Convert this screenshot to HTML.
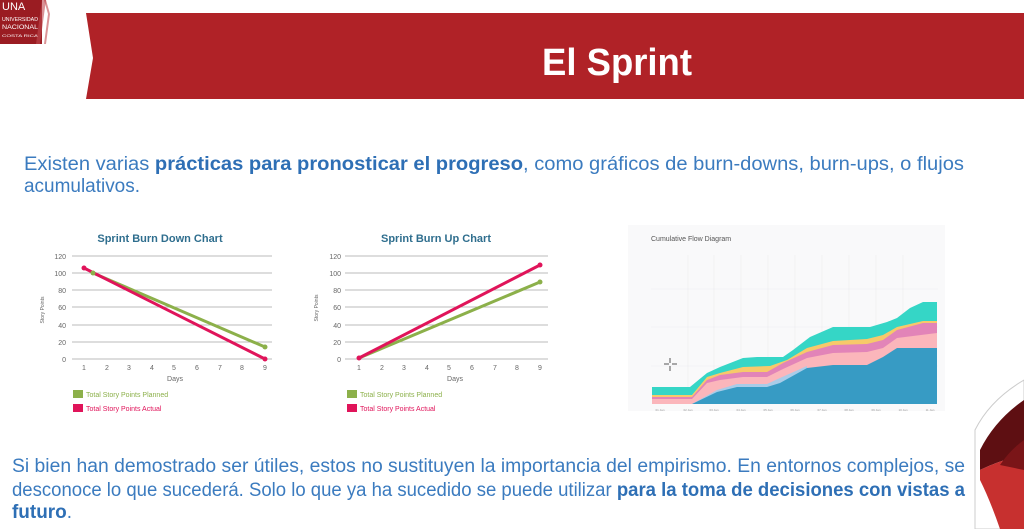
<!DOCTYPE html>
<html><head><meta charset="utf-8"><style>
html,body{margin:0;padding:0;background:#fff;}
svg{display:block;}
text{font-family:"Liberation Sans",sans-serif;}
</style></head><body>
<svg width="1024" height="529" viewBox="0 0 1024 529" xmlns="http://www.w3.org/2000/svg">
<!-- logo -->
<rect x="0" y="0" width="42" height="44" fill="#9a1c22"/>
<text x="2" y="10" font-size="11" fill="#fff">UNA</text>
<text x="2" y="21" font-size="5.5" fill="#fff" textLength="36" lengthAdjust="spacingAndGlyphs">UNIVERSIDAD</text>
<text x="2" y="29" font-size="6" fill="#fff" textLength="36" lengthAdjust="spacingAndGlyphs">NACIONAL</text>
<text x="2" y="37" font-size="4" fill="#fff" textLength="36" lengthAdjust="spacingAndGlyphs">COSTA RICA</text>
<path d="M42 0 L46 0 L40 44 L36 44Z" fill="#c04a50" opacity="0.6"/>
<path d="M46 0 L50 14 L46 44 L44 44 L48 14 L44 0Z" fill="#b52a30" opacity="0.5"/>
<!-- banner -->
<path d="M86 13 L1024 13 L1024 99 L86 99 L93 58 Z" fill="#b02227"/>
<text x="617" y="75" font-size="38" font-weight="bold" fill="#fff" text-anchor="middle" textLength="150" lengthAdjust="spacingAndGlyphs">El Sprint</text>
<!-- top paragraph -->
<text x="24" y="170" font-size="19" fill="#3b7bbf" textLength="940" lengthAdjust="spacingAndGlyphs">Existen varias <tspan font-weight="bold" fill="#2e6fb5">prácticas para pronosticar el progreso</tspan>, como gráficos de burn-downs, burn-ups, o flujos</text>
<text x="24" y="192" font-size="19" fill="#3b7bbf" textLength="116" lengthAdjust="spacingAndGlyphs">acumulativos.</text>

<!-- burn down chart -->
<g font-size="7" fill="#666">
<text x="160" y="242" font-size="11" font-weight="bold" fill="#2f6e8e" text-anchor="middle">Sprint Burn Down Chart</text>
<g stroke="#bbb" stroke-width="1">
<line x1="72" y1="256" x2="272" y2="256"/><line x1="72" y1="273" x2="272" y2="273"/><line x1="72" y1="290" x2="272" y2="290"/><line x1="72" y1="307" x2="272" y2="307"/><line x1="72" y1="325" x2="272" y2="325"/><line x1="72" y1="342" x2="272" y2="342"/><line x1="72" y1="359" x2="272" y2="359"/>
</g>
<g text-anchor="end"><text x="66" y="259">120</text><text x="66" y="276">100</text><text x="66" y="293">80</text><text x="66" y="310">60</text><text x="66" y="328">40</text><text x="66" y="345">20</text><text x="66" y="362">0</text></g>
<g text-anchor="middle"><text x="84" y="370">1</text><text x="107" y="370">2</text><text x="129" y="370">3</text><text x="152" y="370">4</text><text x="174" y="370">5</text><text x="197" y="370">6</text><text x="220" y="370">7</text><text x="242" y="370">8</text><text x="265" y="370">9</text><text x="175" y="381">Days</text></g>
<text x="0" y="0" transform="translate(44,310) rotate(-90)" font-size="5" text-anchor="middle">Story Points</text>
<line x1="93" y1="273" x2="265" y2="347" stroke="#8cb04a" stroke-width="3"/>
<line x1="84" y1="268" x2="265" y2="359" stroke="#e0145a" stroke-width="3"/>
<circle cx="93" cy="273" r="2.5" fill="#8cb04a"/><circle cx="265" cy="347" r="2.5" fill="#8cb04a"/>
<circle cx="84" cy="268" r="2.5" fill="#e0145a"/><circle cx="265" cy="359" r="2.5" fill="#e0145a"/>
<rect x="73" y="390" width="10" height="8" fill="#8cb04a"/><text x="86" y="397" fill="#8cb04a">Total Story Points Planned</text>
<rect x="73" y="404" width="10" height="8" fill="#e0145a"/><text x="86" y="411" fill="#e0145a">Total Story Points Actual</text>
</g>

<!-- burn up chart -->
<g font-size="7" fill="#666">
<text x="436" y="242" font-size="11" font-weight="bold" fill="#2f6e8e" text-anchor="middle">Sprint Burn Up Chart</text>
<g stroke="#bbb" stroke-width="1">
<line x1="345" y1="256" x2="548" y2="256"/><line x1="345" y1="273" x2="548" y2="273"/><line x1="345" y1="290" x2="548" y2="290"/><line x1="345" y1="307" x2="548" y2="307"/><line x1="345" y1="325" x2="548" y2="325"/><line x1="345" y1="342" x2="548" y2="342"/><line x1="345" y1="359" x2="548" y2="359"/>
</g>
<g text-anchor="end"><text x="341" y="259">120</text><text x="341" y="276">100</text><text x="341" y="293">80</text><text x="341" y="310">60</text><text x="341" y="328">40</text><text x="341" y="345">20</text><text x="341" y="362">0</text></g>
<g text-anchor="middle"><text x="359" y="370">1</text><text x="382" y="370">2</text><text x="404" y="370">3</text><text x="427" y="370">4</text><text x="449" y="370">5</text><text x="472" y="370">6</text><text x="495" y="370">7</text><text x="517" y="370">8</text><text x="540" y="370">9</text><text x="455" y="381">Days</text></g>
<text x="0" y="0" transform="translate(318,308) rotate(-90)" font-size="5" text-anchor="middle">Story Points</text>
<line x1="359" y1="358" x2="540" y2="282" stroke="#8cb04a" stroke-width="3"/>
<line x1="359" y1="358" x2="540" y2="265" stroke="#e0145a" stroke-width="3"/>
<circle cx="540" cy="282" r="2.5" fill="#8cb04a"/>
<circle cx="359" cy="358" r="2.5" fill="#e0145a"/><circle cx="540" cy="265" r="2.5" fill="#e0145a"/>
<rect x="347" y="390" width="10" height="8" fill="#8cb04a"/><text x="360" y="397" fill="#8cb04a">Total Story Points Planned</text>
<rect x="347" y="404" width="10" height="8" fill="#e0145a"/><text x="360" y="411" fill="#e0145a">Total Story Points Actual</text>
</g>

<!-- CFD -->
<rect x="628" y="225" width="317" height="186" fill="#f9f9fa"/>
<text x="651" y="241" font-size="7" fill="#555">Cumulative Flow Diagram</text>
<g stroke="#ececef" stroke-width="0.6">
<line x1="651" y1="289" x2="938" y2="289"/><line x1="651" y1="327" x2="938" y2="327"/><line x1="651" y1="366" x2="938" y2="366"/>
<line x1="688" y1="255" x2="688" y2="404"/><line x1="714" y1="255" x2="714" y2="404"/><line x1="741" y1="255" x2="741" y2="404"/><line x1="768" y1="255" x2="768" y2="404"/><line x1="795" y1="255" x2="795" y2="404"/><line x1="822" y1="255" x2="822" y2="404"/><line x1="849" y1="255" x2="849" y2="404"/><line x1="876" y1="255" x2="876" y2="404"/><line x1="903" y1="255" x2="903" y2="404"/>
</g>
<polygon fill="#35d6c6" points="652,387 690,387 707,373 720,367 743,358 757,357 783,357 793,350 810,337 833,327 870,327 887,322 897,318 910,308 923,302 937,302 937,404 652,404"/>
<polygon fill="#f7c96a" points="652,395 692,395 707,377 720,373 743,367 770,366 787,360 807,348 833,341 867,339 883,335 897,327 923,321 937,321 937,404 652,404"/>
<polygon fill="#e284b8" points="652,397 692,397 707,380 720,375 743,372 767,372 783,363 807,352 833,345 867,344 883,340 897,330 923,323 937,323 937,404 652,404"/>
<polygon fill="#fbb6bb" points="652,399 692,399 707,383 720,380 743,377 767,377 783,369 807,358 833,353 867,352 883,348 897,338 937,333 937,404 652,404"/>
<polygon fill="#a9cce8" points="692,404 717,390 737,384 767,384 780,378 807,366 807,404"/>
<polygon fill="#379bc4" points="692,404 717,392 737,387 767,387 780,383 807,368 833,365 867,365 883,357 897,348 937,348 937,404"/>
<g font-size="3" fill="#999" text-anchor="middle"><text x="660" y="411">01 Jan</text><text x="688" y="411">02 Jan</text><text x="714" y="411">03 Jan</text><text x="741" y="411">04 Jan</text><text x="768" y="411">05 Jan</text><text x="795" y="411">06 Jan</text><text x="822" y="411">07 Jan</text><text x="849" y="411">08 Jan</text><text x="876" y="411">09 Jan</text><text x="903" y="411">10 Jan</text><text x="930" y="411">11 Jan</text></g>
<path d="M670 358 v5 M670 366 v5 M664 364 h5 M672 364 h5" stroke="#555" stroke-width="1"/>

<!-- decoration lower right -->
<path d="M1024 380 Q990 400 975 430 L975 529 L1024 529 Z" fill="#fff" stroke="#ccc"/>
<path d="M1024 400 Q995 420 980 450 L980 470 Q1000 460 1024 455 Z" fill="#5e0f12"/>
<path d="M980 470 Q1000 460 1024 455 L1024 529 L1000 529 Q990 500 980 480 Z" fill="#c7302f"/>
<path d="M1024 440 Q1010 450 1000 465 L1024 470Z" fill="#7a1518"/>

<!-- bottom paragraph -->
<text x="12" y="472" font-size="19" fill="#3b7bbf" textLength="953" lengthAdjust="spacingAndGlyphs">Si bien han demostrado ser útiles, estos no sustituyen la importancia del empirismo. En entornos complejos, se</text>
<text x="12" y="496" font-size="19" fill="#3b7bbf" textLength="953" lengthAdjust="spacingAndGlyphs">desconoce lo que sucederá.  Solo lo que ya ha sucedido se puede utilizar <tspan font-weight="bold" fill="#2e6fb5">para la toma de decisiones con vistas a</tspan></text>
<text x="12" y="518" font-size="19" fill="#3b7bbf" textLength="60" lengthAdjust="spacingAndGlyphs"><tspan font-weight="bold" fill="#2e6fb5">futuro</tspan>.</text>
</svg>
</body></html>
